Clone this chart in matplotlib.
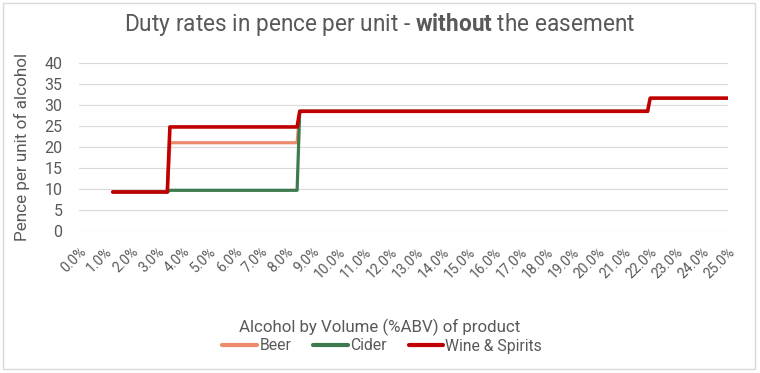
import matplotlib.pyplot as plt
from matplotlib.patches import Rectangle
import numpy as np

plt.rcParams['font.family'] = ['Roboto', 'DejaVu Sans']
plt.rcParams['mathtext.fontset'] = 'custom'
plt.rcParams['mathtext.rm'] = 'Roboto'
plt.rcParams['mathtext.bf'] = 'Roboto:bold'

# ABV breakpoints (%) and duty rates (pence per unit of alcohol)
abv_beer_cider = [1.3, 3.4, 3.5, 8.4, 8.5, 21.9]
beer = [9.27, 9.27, 21.01, 21.01, 28.50, 28.50]
cider = [9.27, 9.27, 9.67, 9.67, 28.50, 28.50]
abv_wine = [1.3, 3.4, 3.5, 8.4, 8.5, 21.9, 22.0, 25.0]
wine_spirits = [9.27, 9.27, 24.77, 24.77, 28.50, 28.50, 31.64, 31.64]

x_ticks = np.arange(0, 26, 1)
y_ticks = np.arange(0, 45, 5)

txt = '#595959'
grid = '#D9D9D9'

fig = plt.figure(figsize=(7.6, 3.73), dpi=100)
ax = fig.add_axes([0.104, 0.381, 0.854, 0.45])

ax.plot(abv_beer_cider, beer, color='#EE8A6C', lw=2.3, label='Beer', solid_capstyle='round')
ax.plot(abv_beer_cider, cider, color='#3D7A4E', lw=2.3, label='Cider', solid_capstyle='round')
ax.plot(abv_wine, wine_spirits, color='#C00000', lw=2.6, label='Wine & Spirits', solid_capstyle='round')

ax.set_xlim(0, 25)
ax.set_ylim(0, 40)
ax.set_xticks(x_ticks)
ax.set_xticklabels(['%.1f%%' % v for v in x_ticks], rotation=45, ha='right',
                   rotation_mode='anchor', fontsize=10, color=txt)
ax.set_yticks(y_ticks)
ax.set_yticklabels([str(v) for v in y_ticks], fontsize=11.5, color=txt)
ax.tick_params(axis='y', length=0, pad=12)
ax.tick_params(axis='x', length=0, pad=10)
ax.grid(axis='y', color=grid, lw=0.8)
ax.set_axisbelow(True)
for s in ax.spines.values():
    s.set_visible(False)

ax.set_ylabel('Pence per unit of alcohol', fontsize=12.3, color=txt, labelpad=10)
fig.text(0.5, 1 - 327 / 373, 'Alcohol by Volume (%ABV) of product', ha='center', va='center',
         fontsize=12.2, color=txt)

fig.text(0.5, 1 - 25 / 373, 'Duty rates in pence per unit - $\\bf{without}$ the easement',
         ha='center', va='center', fontsize=16.3, color=txt)

leg = fig.legend(loc='center', bbox_to_anchor=(0.503, 1 - 346 / 373), ncol=3, frameon=False,
                 fontsize=11.3, handlelength=2.2, handletextpad=0.15, columnspacing=1.4)
for line in leg.get_lines():
    line.set_linewidth(3)
for t in leg.get_texts():
    t.set_color(txt)

fig.patches.append(Rectangle((0.004, 0.012), 0.99, 0.98, transform=fig.transFigure,
                             fill=False, edgecolor='#D9D9D9', lw=1))

plt.savefig('out.png', dpi=100)
